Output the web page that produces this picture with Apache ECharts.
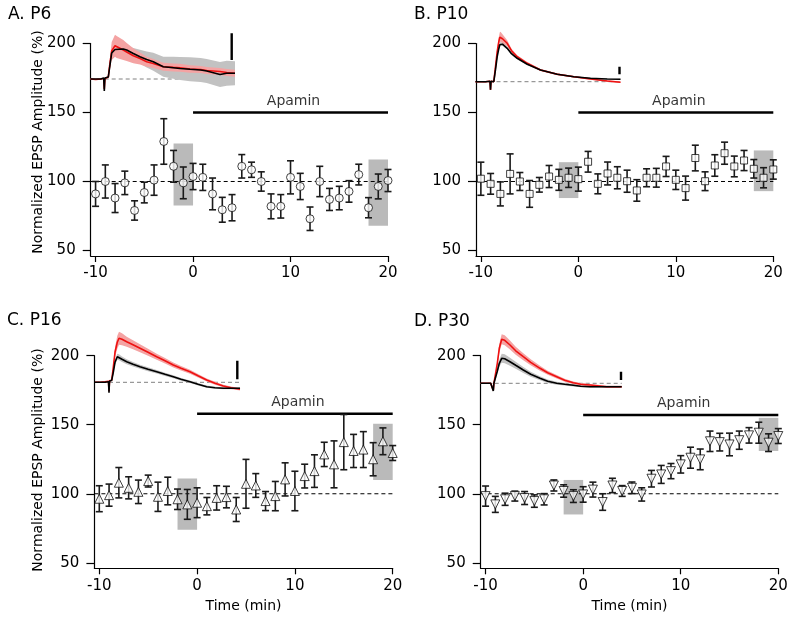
<!DOCTYPE html>
<html><head><meta charset="utf-8">
<script src="https://cdn.jsdelivr.net/npm/echarts@6/dist/echarts.min.js"></script>
<style>html,body{margin:0;padding:0;background:#fff}#c{width:800px;height:626px}</style>
</head><body><div id="c"></div>
<script>
// ---------- data ----------
const timeMin = [-10,-9,-8,-7,-6,-5,-4,-3,-2,-1,0,1,2,3,4,5,6,7,8,9,10,11,12,13,14,15,16,17,18,19,20];
const xTicks = [-10, 0, 10, 20];
const yTicks = [50, 100, 150, 200];
const baselinePct = 100;
const apaminStart = 0, apaminEnd = 20;

const p6Mean = [91,100,88,99,79,92,101,129,111,99,103.6,103,91,79.5,81,111,108.5,100,82,82,103,96.4,73,100,87,88,92.8,105,81,96.4,100.7];
const p6Err  = [9,12,10.5,8.5,7,7.5,11,16.5,11.5,11.5,9.5,9.5,11.5,9,9.5,8.5,5.5,7,9,8.5,12,9.5,8.5,11,8,8.5,7.8,7.5,7.3,9,8];
const p10Mean = [102,98.3,91,105.5,100,91,97.6,103.6,101.2,102.7,101.7,114.3,98.3,105.8,102.7,100.2,93.5,102.7,102.7,110.9,101.2,95.2,117,100.2,111.6,120.5,110.9,115.2,109.2,102.7,108.7];
const p10Err  = [12,7.5,8.7,14.5,6.5,9.7,5.3,8,7.6,7,8.7,7.5,7.2,8.3,8,8,7.8,6.5,6.8,7.3,7,8.7,9.3,6.8,7.8,8,7.5,7.3,6.7,7.3,7];
const p16Mean = [96.4,99,108,104.3,101.4,109.2,97.8,102,96,92.3,93.5,91,97,97.6,88.6,107.2,106,94.7,98.3,110.4,102,112.8,116.4,128.5,121.3,137.4,131,132,125,138,129.5];
const p16Err  = [9.4,8,11,8,8.5,4.3,10.6,10,7.4,10.8,10.8,6.3,8.8,7.8,8.7,17.7,8.6,6.9,10.6,12,14.3,8.6,11.8,8.8,17,20,12,13,12,9.7,5.4];
const p30Mean = [98.3,92.3,96,98.3,96.9,94.7,96,106,102,98.3,99.5,103,94,106,102,104.3,99.5,110.9,114,116.4,121.3,126.1,124.9,138,137.4,135.7,138.8,142.3,144.2,137,141.8];
const p30Err  = [7.3,5.8,4.4,3.6,4.7,4.5,4.1,4,4.5,4.6,5.6,5.4,6,5.2,3.9,4.2,4.8,6,6.5,5.5,6.3,7.6,7.5,7.4,6.4,8.2,6.6,5.6,7.6,6.4,5.4];

// averaging windows [xStart, xEnd, yLow, yHigh]
const p6Boxes  = [[-2,0,82.6,127.5],[18,20,68,116]];
const p10Boxes = [[-2,0,88,114],[18,20,93,122.5]];
const p16Boxes = [[-2,0,74,111],[18,20,110,150.7]];
const p30Boxes = [[-2,0,85,110],[18,20,131,155]];
const p6ApaminY = 150, p10ApaminY = 150, p16ApaminY = 158, p30ApaminY = 157;

// inset EPSP traces (time, arbitrary units; amplitude relative to baseline)
const p6T      = [0,5,10,13,13.6,14.2,16,17.6,19,21,24.3,26,32.6,36,42.6,49.3,56,62.6,72.6,82.6,89.3,99.3,110,116,129.3,136,144.3];
const p6Black  = [0,0,0,1,-12,1,1.5,2,12,26,29.5,30.7,30,29,25.5,22.3,19.5,17.3,12.3,11.3,10.5,9.7,9,8,4.5,5.7,5.7];
const p6BlackS = [0.5,0.5,0.5,0.5,0.5,0.5,0.5,0.5,2,3,3,3.5,4,4.5,5.5,7,8,9,10,11,11.5,12,12,12,12.5,12.5,12];
const p6Red    = [0,-0.5,0,0.5,-10,0.5,1,2,14,28,33.3,32,29,27,23.3,20.5,17.3,15.5,12.3,11.6,11.3,10,9.5,8.5,7.5,6.5,5.7];
const p6RedS   = [0.5,0.5,0.5,0.5,0.5,0.5,0.5,0.5,5,9,11,11,10,9,7.5,6,5,4.5,4,4,4,3.8,3.6,3.5,3.5,3.5,3.5];
const p6Bar    = [[141,19],[141,45.7]];

const p10T      = [0,5,10,14.5,15,15.5,17,18.3,20,21.7,23.3,24.3,25,27,31.7,36,41.7,51.7,65,81.7,98.3,115,131.7,145];
const p10Black  = [0,0,0,0.5,-8,0.5,0,0,12,25,33,37,38.4,37.5,33.4,28,23.4,17.4,11.7,7.4,5,3.4,2.7,2.4];
const p10BlackS = [0.3,0.3,0.3,0.3,0.3,0.3,0.3,0.3,1,1.5,1.5,1.5,1.5,1.5,1.3,1.2,1,0.8,0.7,0.7,0.6,0.6,0.6,0.6];
const p10Red    = [0,0,0,0.5,-8.3,0.5,0,0,15,30,40,44.5,45,43,38.4,31,25,18.4,11.7,7.4,5,2.7,0.7,-0.6];
const p10RedS   = [0.3,0.3,0.3,0.3,0.3,0.3,0.3,0.3,2,3.5,4.5,5,5,4.5,3,2,1.5,1.2,1,1,0.8,0.8,0.8,0.8];
const p10Bar    = [[144,7.4],[144,15]];

const p16T      = [0,5,10,13.5,14,14.5,16.7,18.3,20,22.3,24,27,31.7,38,45,53,61.7,70,78.3,86,95,103,111.7,120,128.3,136,145];
const p16Black  = [0,0,0,0.5,-10.4,1,2,10,20,25.6,25,23,20.6,18,15.6,13,10.6,8,5.6,3,0.6,-2,-4.4,-5.5,-6,-6,-6];
const p16BlackS = [0.3,0.3,0.3,0.3,0.3,0.3,0.3,1.5,2.5,3,3,2.8,2.5,2.3,2,2,1.8,1.6,1.5,1.4,1.3,1.2,1.1,1,1,1,1];
const p16Red    = [0,0,0.5,1,-9,1.5,2,15,30,40,44,43,40.6,37.5,34,30,25.6,21.5,17.3,14,10.6,6.5,2.3,-1,-3.7,-5.5,-7];
const p16RedS   = [0.3,0.3,0.3,0.3,0.3,0.3,0.3,3,5,6.5,6.5,6,5,4.5,4,3.5,3,2.8,2.5,2.2,2,1.8,1.6,1.5,1.3,1.2,1.2];
const p16Bar    = [[142.3,3],[142.3,21.6]];

const p30T      = [0,5,10,12,12.6,13.2,14.3,16.6,18.6,21,24,29.3,35,42.6,50,59.3,67,76,84,92.6,100,109.3,126,141];
const p30Black  = [0,0,0,0,-7.7,0,1,12,20,25,24.5,21.6,18,13.3,9,5,2,0,-1,-2,-3,-3.4,-3.4,-3.4];
const p30BlackS = [0.3,0.3,0.3,0.3,0.3,0.3,0.3,2,3.5,4.5,4.5,4,3.5,3,2.5,2,1.8,1.5,1.3,1.2,1,1,1,1];
const p30Red    = [0,0,0,0,-7,0,1,20,35,44,43,38.3,32.5,26.6,21,15,10.5,6.6,3,0.6,-1,-1.7,-3.4,-3.4];
const p30RedS   = [0.3,0.3,0.3,0.3,0.3,0.3,0.3,3,4.5,5,5,4.5,4,3.5,3,2.5,2,1.8,1.5,1.3,1.2,1,1,1];
const p30Bar    = [[140.3,3.3],[140.3,11.6]];

// ---------- layout / style ----------
const FONT = 'DejaVu Sans';
const X_MIN = -10.5, X_MAX = 20, Y_MIN = 46, Y_MAX = 200;
const INSET_X = [0, 145], INSET_Y = [-20, 50];

const panels = [
  {title:'A. P6',  mean:p6Mean,  err:p6Err,  boxes:p6Boxes,  apY:p6ApaminY,  symbol:'circle',   size:8, rot:0,
   tr:{t:p6T, k:p6Black, ks:p6BlackS, r:p6Red, rs:p6RedS, bar:p6Bar},
   g:{left:90.7, top:43.5, width:297.3, height:212.5}, inset:{left:90.7, base:79},
   titlePos:[8,16.5], yName:[38.5,142], xName:false},
  {title:'B. P10', mean:p10Mean, err:p10Err, boxes:p10Boxes, apY:p10ApaminY, symbol:'rect',     size:7, rot:0,
   tr:{t:p10T, k:p10Black, ks:p10BlackS, r:p10Red, rs:p10RedS, bar:p10Bar},
   g:{left:476, top:43.5, width:297.3, height:212.5}, inset:{left:475.5, base:81.7},
   titlePos:[414,16.5], yName:null, xName:false},
  {title:'C. P16', mean:p16Mean, err:p16Err, boxes:p16Boxes, apY:p16ApaminY, symbol:'triangle', size:9, rot:0,
   tr:{t:p16T, k:p16Black, ks:p16BlackS, r:p16Red, rs:p16RedS, bar:p16Bar},
   g:{left:94.4, top:355.7, width:298.3, height:212.6}, inset:{left:95, base:382.3},
   titlePos:[7,322.5], yName:[38.5,460], xName:true},
  {title:'D. P30', mean:p30Mean, err:p30Err, boxes:p30Boxes, apY:p30ApaminY, symbol:'triangle', size:9, rot:180,
   tr:{t:p30T, k:p30Black, ks:p30BlackS, r:p30Red, rs:p30RedS, bar:p30Bar},
   g:{left:480.7, top:355.7, width:297.6, height:212.6}, inset:{left:480.7, base:383.3},
   titlePos:[414,323.5], yName:null, xName:true}
];

const grid = [], xAxis = [], yAxis = [], series = [], graphic = [];

panels.forEach((p, i) => {
  const gi = i * 2, ii = i * 2 + 1;
  grid.push({left:p.g.left, top:p.g.top, width:p.g.width, height:p.g.height, containLabel:false});
  grid.push({left:p.inset.left, top:p.inset.base - INSET_Y[1], width:INSET_X[1]-INSET_X[0], height:INSET_Y[1]-INSET_Y[0], containLabel:false});

  xAxis.push({
    gridIndex: gi, type:'value', min:X_MIN, max:X_MAX,
    axisLine:{show:true, onZero:false, lineStyle:{color:'#000', width:1.2}},
    axisTick:{show:true, length:6, customValues:xTicks, lineStyle:{color:'#000', width:1.2}},
    axisLabel:{show:true, customValues:xTicks, fontFamily:FONT, fontSize:15, color:'#000', margin:10},
    splitLine:{show:false},
    name: p.xName ? 'Time (min)' : '', nameLocation:'middle', nameGap:31,
    nameTextStyle:{fontFamily:FONT, fontSize:14, color:'#000'}
  });
  yAxis.push({
    gridIndex: gi, type:'value', min:Y_MIN, max:Y_MAX,
    axisLine:{show:true, onZero:false, lineStyle:{color:'#000', width:1.2}},
    axisTick:{show:true, length:8, customValues:yTicks, lineStyle:{color:'#000', width:1.2}},
    axisLabel:{show:true, customValues:yTicks, fontFamily:FONT, fontSize:15, color:'#000', margin:15},
    splitLine:{show:false}
  });
  xAxis.push({gridIndex: ii, type:'value', min:INSET_X[0], max:INSET_X[1], show:false});
  yAxis.push({gridIndex: ii, type:'value', min:INSET_Y[0], max:INSET_Y[1], show:false});

  // gray averaging boxes
  series.push({
    type:'custom', xAxisIndex:gi, yAxisIndex:gi, z:1, silent:true,
    data:p.boxes, encode:{x:[0,1], y:[2,3]},
    renderItem:(params, api) => {
      const a = api.coord([api.value(0), api.value(3)]);
      const b = api.coord([api.value(1), api.value(2)]);
      return {type:'rect', shape:{x:a[0], y:a[1], width:b[0]-a[0], height:b[1]-a[1]}, style:{fill:'#bababa'}};
    }
  });
  // dashed 100% baseline
  series.push({
    type:'line', xAxisIndex:gi, yAxisIndex:gi, z:2, silent:true, symbol:'none',
    data:[[X_MIN, baselinePct],[X_MAX, baselinePct]],
    lineStyle:{color:'#000', width:1, type:[4,3]}
  });
  // apamin bar
  series.push({
    type:'line', xAxisIndex:gi, yAxisIndex:gi, z:2, silent:true, symbol:'none',
    data:[[apaminStart, p.apY],[apaminEnd, p.apY]],
    lineStyle:{color:'#000', width:2.6}
  });
  series.push({
    type:'scatter', xAxisIndex:gi, yAxisIndex:gi, z:2, silent:true, symbolSize:1,
    itemStyle:{color:'rgba(0,0,0,0)'},
    data:[[(apaminStart+apaminEnd)/2, p.apY]],
    label:{show:true, position:'top', distance:4, offset:[3,0], formatter:'Apamin', fontFamily:FONT, fontSize:14, color:'#000'}
  });
  // error bars
  series.push({
    type:'custom', xAxisIndex:gi, yAxisIndex:gi, z:3, silent:true,
    data: timeMin.map((t, k) => [t, p.mean[k] - p.err[k], p.mean[k] + p.err[k]]),
    encode:{x:0, y:[1,2]},
    renderItem:(params, api) => {
      const x = api.value(0);
      const lo = api.coord([x, api.value(1)]);
      const hi = api.coord([x, api.value(2)]);
      const w = 3.5, st = {stroke:'#1a1a1a', lineWidth:1.6};
      return {type:'group', children:[
        {type:'line', shape:{x1:lo[0], y1:lo[1], x2:hi[0], y2:hi[1]}, style:st},
        {type:'line', shape:{x1:lo[0]-w, y1:lo[1], x2:lo[0]+w, y2:lo[1]}, style:st},
        {type:'line', shape:{x1:hi[0]-w, y1:hi[1], x2:hi[0]+w, y2:hi[1]}, style:st}
      ]};
    }
  });
  // mean markers
  series.push({
    type:'scatter', xAxisIndex:gi, yAxisIndex:gi, z:4, silent:true,
    symbol:p.symbol, symbolSize:p.size, symbolRotate:p.rot,
    itemStyle:{color:'#fff', borderColor:'#111', borderWidth:1},
    data: timeMin.map((t, k) => [t, p.mean[k]])
  });

  // ---- inset traces ----
  const tr = p.tr;
  const band = (m, s, color, z) => ({
    type:'custom', xAxisIndex:ii, yAxisIndex:ii, z:z, silent:true,
    data:[[tr.t[0], m[0]]],
    renderItem:(params, api) => {
      const pts = [];
      for (let k = 0; k < tr.t.length; k++) pts.push(api.coord([tr.t[k], m[k] + s[k]]));
      for (let k = tr.t.length - 1; k >= 0; k--) pts.push(api.coord([tr.t[k], m[k] - s[k]]));
      return {type:'polygon', shape:{points:pts}, style:{fill:color}};
    }
  });
  series.push({
    type:'line', xAxisIndex:ii, yAxisIndex:ii, z:5, silent:true, symbol:'none',
    data:[[tr.t[0], 0],[tr.t[tr.t.length-1], 0]],
    lineStyle:{color:'#808080', width:1, type:[4,3]}
  });
  series.push(band(tr.k, tr.ks, '#c2c2c2', 6));
  series.push(band(tr.r, tr.rs, '#f4a3a3', 7));
  series.push({
    type:'line', xAxisIndex:ii, yAxisIndex:ii, z:8, silent:true, symbol:'none',
    data: tr.t.map((t, k) => [t, tr.r[k]]), lineStyle:{color:'#ee1111', width:1.6}
  });
  series.push({
    type:'line', xAxisIndex:ii, yAxisIndex:ii, z:9, silent:true, symbol:'none',
    data: tr.t.map((t, k) => [t, tr.k[k]]), lineStyle:{color:'#000', width:1.6}
  });
  series.push({
    type:'line', xAxisIndex:ii, yAxisIndex:ii, z:9, silent:true, symbol:'none',
    data: tr.bar, lineStyle:{color:'#000', width:2.4}
  });

  // texts
  graphic.push({type:'text', left:p.titlePos[0], top:p.titlePos[1]-10,
    style:{text:p.title, font:'17px "' + FONT + '"', fill:'#000'}});
  if (p.yName) {
    graphic.push({type:'text', x:p.yName[0], y:p.yName[1], rotation:Math.PI/2,
      style:{text:'Normalized EPSP Amplitude (%)', font:'14px "' + FONT + '"', fill:'#000', align:'center', verticalAlign:'middle'}});
  }
});

const chart = echarts.init(document.getElementById('c'), null, {renderer:'canvas'});
chart.setOption({
  animation:false,
  backgroundColor:'#fff',
  textStyle:{fontFamily:FONT},
  grid, xAxis, yAxis, series, graphic
});
</script></body></html>
